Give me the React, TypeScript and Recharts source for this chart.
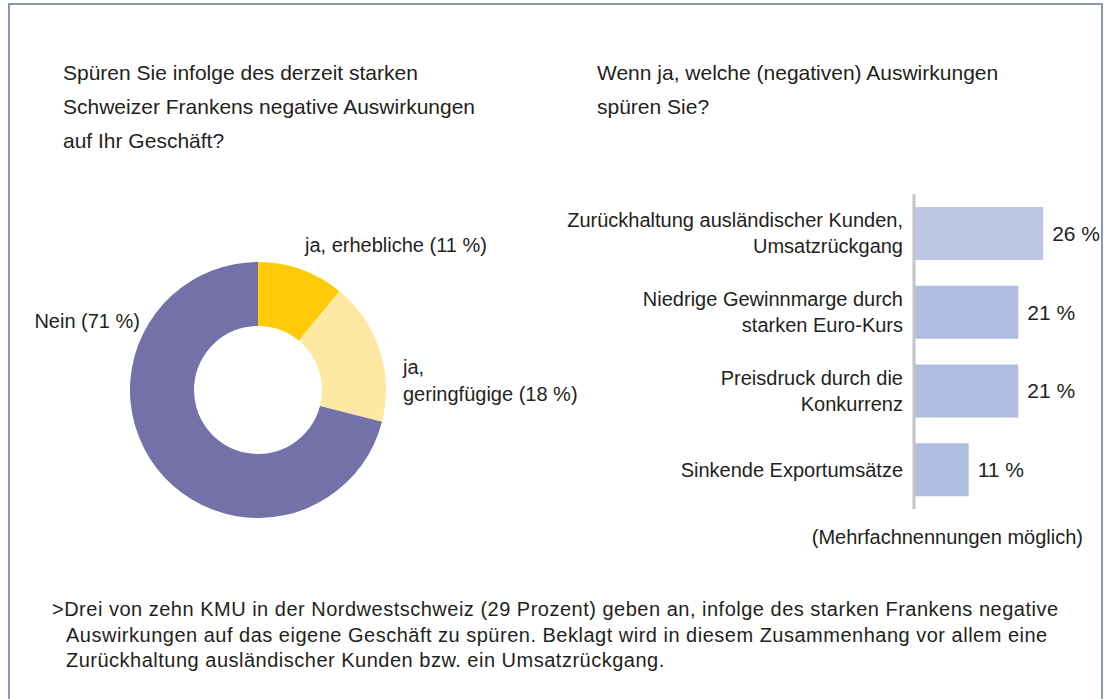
import React from "react";
import { PieChart, Pie, Cell, BarChart, Bar, XAxis, YAxis, LabelList } from "recharts";

const pieNames = ["ja, erhebliche (11 %)", "ja,\ngeringfügige (18 %)", "Nein (71 %)"];
const pieValues = [11, 18, 71];
const pieColors = ["#fdcb0a", "#fde9a2", "#7470a8"];

const barCategories = [
  "Zurückhaltung ausländischer Kunden,\nUmsatzrückgang",
  "Niedrige Gewinnmarge durch\nstarken Euro-Kurs",
  "Preisdruck durch die\nKonkurrenz",
  "Sinkende Exportumsätze",
];
const barValues = [26, 21, 21, 11];
const barColors = ["#bdc7e5", "#aebde0", "#aebde0", "#aebde0"];

const leftTitle = ["Spüren Sie infolge des derzeit starken", "Schweizer Frankens negative Auswirkungen", "auf Ihr Geschäft?"];
const rightTitle = ["Wenn ja, welche (negativen) Auswirkungen", "spüren Sie?"];
const note = "(Mehrfachnennungen möglich)";
const footer = [
  ">Drei von zehn KMU in der Nordwestschweiz (29 Prozent) geben an, infolge des starken Frankens negative",
  "Auswirkungen auf das eigene Geschäft zu spüren. Beklagt wird in diesem Zusammenhang vor allem eine",
  "Zurückhaltung ausländischer Kunden bzw. ein Umsatzrückgang.",
];

const FONT = "'Liberation Sans Narrow', 'Arial Narrow', 'Liberation Sans', sans-serif";
const TEXT = "#231f20";

const pieData = pieNames.map((name, i) => ({ name, value: pieValues[i] }));
const barData = barCategories.map((name, i) => ({ name, value: barValues[i] }));

const labelOffsets = [
  { dx: 47, dy: -138, anchor: "start" },
  { dx: 145, dy: -16, anchor: "start" },
  { dx: -118, dy: -62, anchor: "end" },
];

const renderPieLabel = (props: any) => {
  const { cx, cy, index, name } = props;
  const o = labelOffsets[index];
  const lines = String(name).split("\n");
  return (
    <text x={cx + o.dx} y={cy + o.dy} textAnchor={o.anchor} fontFamily={FONT} fontSize={20} fill={TEXT}>
      {lines.map((l, i) => (
        <tspan key={i} x={cx + o.dx} dy={i === 0 ? 0 : 27}>
          {l}
        </tspan>
      ))}
    </text>
  );
};

const CatTick = (props: any) => {
  const { x, y, payload } = props;
  const lines = String(payload.value).split("\n");
  const start = lines.length === 1 ? 7 : -6;
  return (
    <text x={x} y={y} textAnchor="end" fontFamily={FONT} fontSize={20} fill={TEXT}>
      {lines.map((l, i) => (
        <tspan key={i} x={x} dy={i === 0 ? start : 26}>
          {l}
        </tspan>
      ))}
    </text>
  );
};

export default function App() {
  return (
    <div style={{ position: "absolute", left: 0, top: 0, width: 1111, height: 699, overflow: "hidden", background: "#fff", fontFamily: FONT, color: TEXT }}>
      <div style={{ position: "absolute", left: 8, top: 3, width: 1095, height: 720, border: "2px solid #8a97b0", boxSizing: "border-box" }} />
      <div style={{ position: "absolute", left: 63, top: 56, fontSize: 21, lineHeight: "34px" }}>
        {leftTitle.map((l, i) => (<div key={i}>{l}</div>))}
      </div>
      <div style={{ position: "absolute", left: 597, top: 56, fontSize: 21, lineHeight: "34px" }}>
        {rightTitle.map((l, i) => (<div key={i}>{l}</div>))}
      </div>
      <div style={{ position: "absolute", left: 0, top: 0 }}>
        <PieChart width={700} height={600} margin={{ top: 0, right: 0, bottom: 0, left: 0 }}>
          <Pie
            data={pieData}
            dataKey="value"
            nameKey="name"
            cx={258}
            cy={390}
            innerRadius={64}
            outerRadius={128}
            startAngle={90}
            endAngle={-270}
            stroke="none"
            isAnimationActive={false}
            label={renderPieLabel}
            labelLine={false}
          >
            {pieData.map((d, i) => (<Cell key={i} fill={pieColors[i]} />))}
          </Pie>
        </PieChart>
      </div>
      <div style={{ position: "absolute", left: 0, top: 0 }}>
        <BarChart width={1111} height={699} data={barData} layout="vertical" margin={{ top: 194, right: 48, bottom: 190, left: 600 }} barSize={53}>
          <XAxis type="number" domain={[0, 30]} hide />
          <YAxis type="category" dataKey="name" width={314} axisLine={{ stroke: "#c4c4ca", strokeWidth: 3 }} tickLine={false} tick={<CatTick />} tickMargin={5} interval={0} />
          <Bar dataKey="value" isAnimationActive={false}>
            {barData.map((d, i) => (<Cell key={i} fill={barColors[i]} />))}
            <LabelList dataKey="value" position="right" offset={9} formatter={(v: any) => `${v} %`} style={{ fontFamily: FONT, fontSize: 21, fill: TEXT }} />
          </Bar>
        </BarChart>
      </div>
      <div style={{ position: "absolute", right: 1111 - 1083, top: 526, fontSize: 20 }}>{note}</div>
      <div style={{ position: "absolute", left: 52, top: 597, fontSize: 20, letterSpacing: "0.5px", lineHeight: "25.5px", whiteSpace: "pre" }}>
        {footer.map((l, i) => (<div key={i} style={{ paddingLeft: i === 0 ? 0 : 14 }}>{l}</div>))}
      </div>
    </div>
  );
}
